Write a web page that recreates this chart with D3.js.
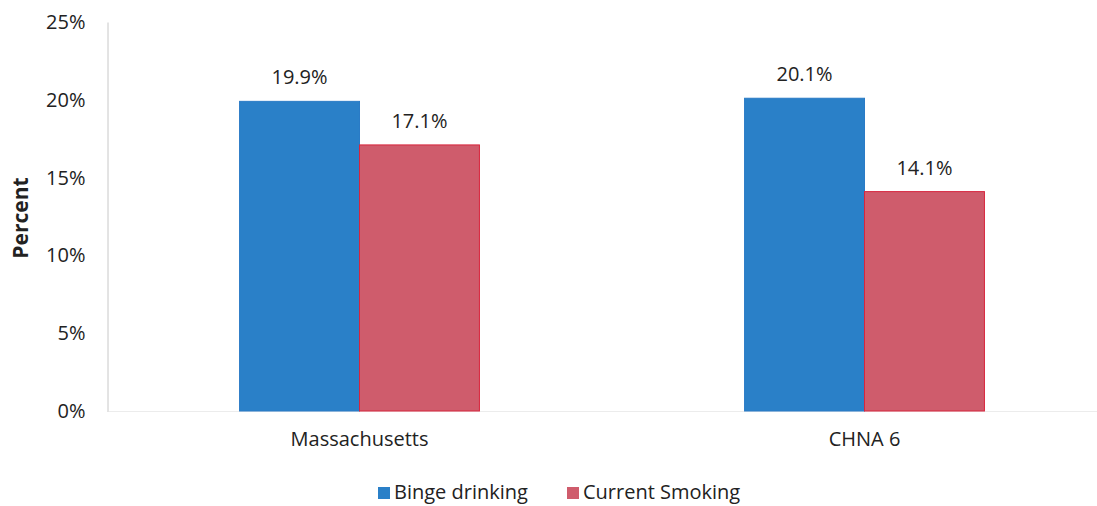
<!DOCTYPE html>
<html><head><meta charset="utf-8">
<script src="https://cdn.jsdelivr.net/npm/d3@7"></script>
<style>body{margin:0;background:#fff;} svg{display:block;font-family:"Open Sans",sans-serif;}</style>
</head><body>
<svg id="c" width="1097" height="506"></svg>
<script>
const categories = ["Massachusetts", "CHNA 6"];
const seriesNames = ["Binge drinking", "Current Smoking"];
const bingeDrinking = [19.9, 20.1];
const currentSmoking = [17.1, 14.1];
const yTicks = [0, 5, 10, 15, 20, 25];
const colors = ["#2a80c8", "#cf5c6c"];
const strokes = ["#2a7bc6", "#d8253d"];

const svg = d3.select("#c");
const y = d3.scaleLinear().domain([0, 25]).range([411, 22]);
const x0 = d3.scaleBand().domain(categories).range([107, 1117]).paddingInner(0.525).paddingOuter(0.2625);
const x1 = d3.scaleBand().domain(seriesNames).range([0, x0.bandwidth()]);
const seriesVals = [bingeDrinking, currentSmoking];
const FS = 20;

// baseline
svg.append("line").attr("x1", 107).attr("x2", 1097).attr("y1", y(0)+0.5).attr("y2", y(0)+0.5)
  .attr("stroke", "#ececec").attr("stroke-width", 1);

// y axis
const yAxis = d3.axisLeft(y).tickValues(yTicks).tickFormat(d => d + "%").tickSize(0).tickPadding(22);
const ga = svg.append("g").attr("transform", "translate(107.5,0)").call(yAxis);
ga.select(".domain").attr("stroke", "#c8c8c8");
ga.selectAll("text").attr("font-size", FS).attr("fill", "#222").attr("font-family", "Open Sans");

// bars
categories.forEach((c, ci) => {
  seriesNames.forEach((s, si) => {
    const v = seriesVals[si][ci];
    const bx = x0(c) + x1(s);
    svg.append("rect").attr("x", bx).attr("y", y(v)).attr("width", x1.bandwidth()).attr("height", y(0) - y(v))
      .attr("fill", colors[si]).attr("stroke", strokes[si]).attr("stroke-width", 1);
    svg.append("text").attr("x", bx + x1.bandwidth()/2).attr("y", y(v) - 17)
      .attr("text-anchor", "middle").attr("font-size", FS).attr("fill", "#222").text(v.toFixed(1) + "%");
  });
});

// x labels
const xAxis = d3.axisBottom(x0).tickSize(0).tickPadding(21);
const gx = svg.append("g").attr("transform", `translate(0,${y(0)})`).call(xAxis);
gx.select(".domain").remove();
gx.selectAll("text").attr("font-size", FS).attr("fill", "#222").attr("font-family", "Open Sans");

// y title
svg.append("text").attr("transform", "translate(28,218) rotate(-90)").attr("text-anchor", "middle")
  .attr("font-size", 21).attr("font-weight", "bold").attr("fill", "#222").text("Percent");

// legend
const legX = [378, 567];
seriesNames.forEach((s, i) => {
  svg.append("rect").attr("x", legX[i]).attr("y", 487).attr("width", 12).attr("height", 12).attr("fill", colors[i]);
  svg.append("text").attr("x", legX[i] + 16).attr("y", 499).attr("font-size", FS).attr("fill", "#222").text(s);
});
</script>
</body></html>
